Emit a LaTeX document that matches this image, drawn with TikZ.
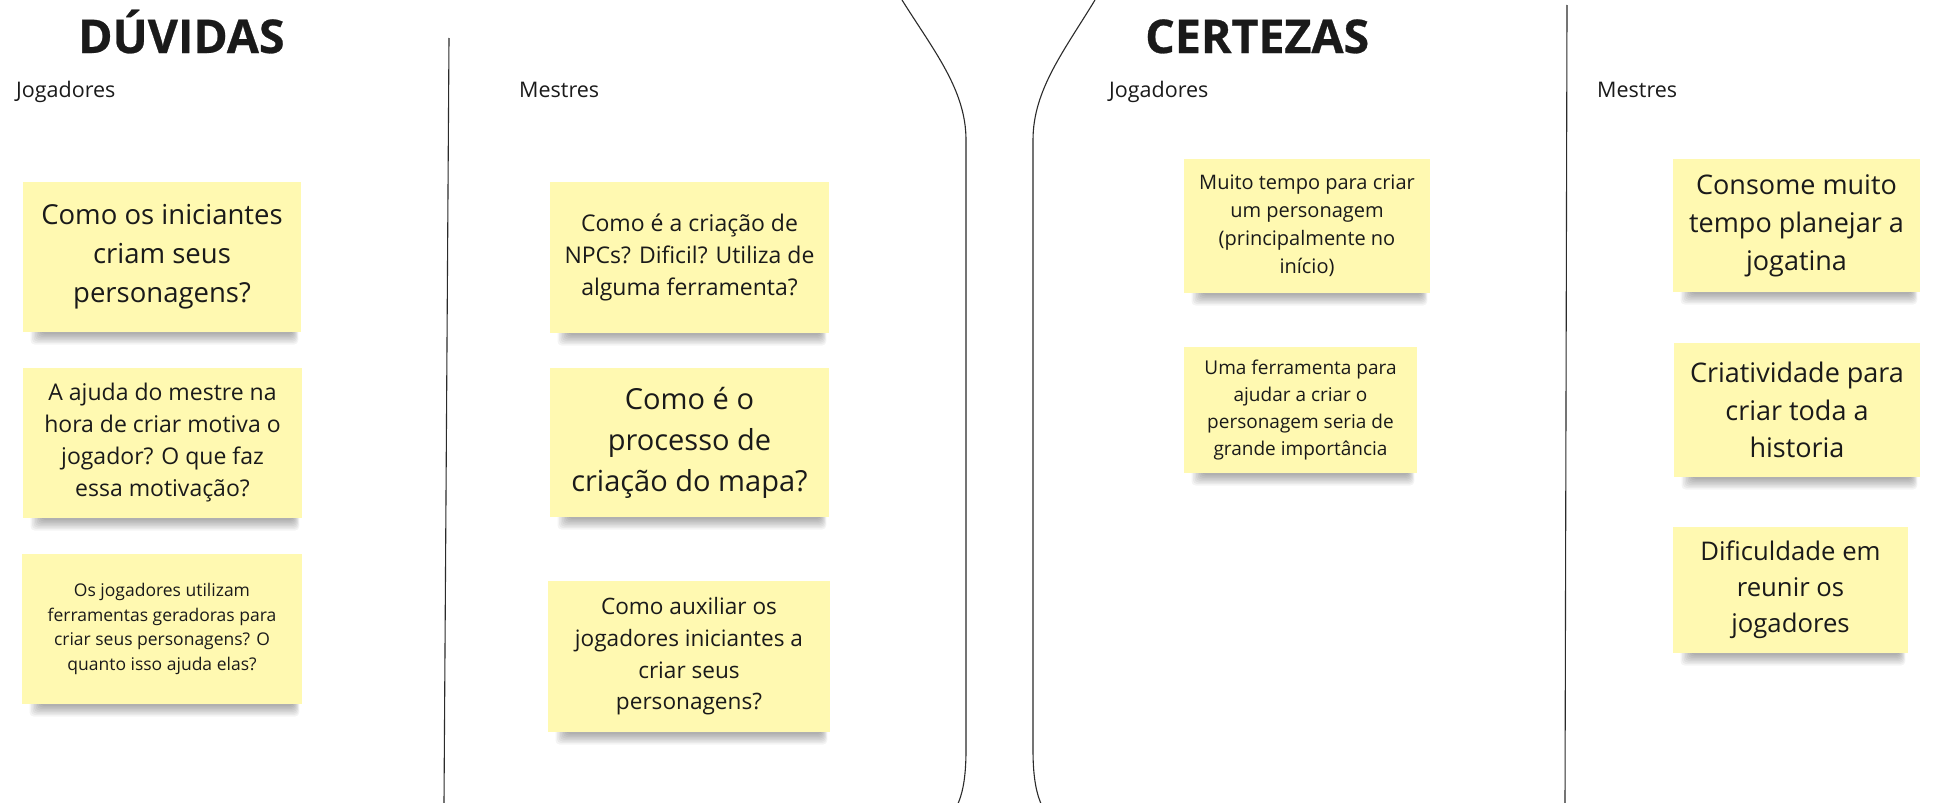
\documentclass[tikz,border=0pt]{standalone}
\usepackage{fontspec}
\setmainfont{Open Sans}
\newfontfamily\titlefont{Open Sans}[BoldFeatures={FakeBold=0.6}]
\definecolor{stickyyellow}{HTML}{FFF9B1}
\definecolor{inkdark}{HTML}{1A1A1A}
\definecolor{linegray}{HTML}{2B2B2B}
\tikzset{
  notebox/.style={fill=stickyyellow, draw=none, inner sep=0pt, align=center, text=inkdark},
  notesh/.style={fill=black, opacity=0.045, rounded corners=4pt},
  lanelabel/.style={anchor=base west, inner sep=0pt, text=inkdark, font=\fontsize{21.5}{25}\selectfont},
  bigtitle/.style={anchor=base west, inner sep=0pt, text=inkdark, font=\titlefont\bfseries\fontsize{46.5}{52}\selectfont},
  divider/.style={draw=linegray, line width=1.1pt},
}
\newcommand\stickynote[8]{%
  \foreach \s in {0,1.5,3,4.5,6,7.5,9,10.5}{\fill[notesh] (#2+18-\s,#5-4) rectangle (#4-8+0.5*\s,#5+2+\s);}
  \node[notebox, minimum width={#4-#2}, minimum height={#5-#3}, font=\fontsize{#6}{#7}\selectfont] (#1) at ({(#2+#4)/2},{(#3+#5)/2}) {#8};
}
\begin{document}
\begin{tikzpicture}[x=1pt,y=-1pt]
\useasboundingbox (0,0) rectangle (1944,803);
\fill[white] (0,0) rectangle (1944,803);
\clip (0,0) rectangle (1944,803);

% titles
\node[bigtitle] (t1) at (78,53) {DÚVIDAS};
\node[bigtitle] (t2) at (1145,53) {CERTEZAS};

% lane labels
\node[lanelabel] (l1) at (16,97) {Jogadores};
\node[lanelabel] (l2) at (519,97) {Mestres};
\node[lanelabel] (l3) at (1109,97) {Jogadores};
\node[lanelabel] (l4) at (1597,97) {Mestres};

% dividers
\draw[divider] (449,38) -- (444,803);
\draw[divider] (1567,5) -- (1565,803);

% big brackets
\draw[divider] (902,0) .. controls (934,51) and (966,90) .. (966,140) -- (966,750) .. controls (966,780) and (962,795) .. (957,806);
\draw[divider] (1095,0) .. controls (1064,51) and (1033,90) .. (1033,140) -- (1033,750) .. controls (1033,780) and (1037,795) .. (1042,806);

% notes - DUVIDAS / Jogadores
\stickynote{n1}{23}{182}{301}{332}{27.5}{39}{Como os iniciantes\\criam seus\\personagens?}
\stickynote{n2}{23}{368}{302}{518}{23}{32}{A ajuda do mestre na\\hora de criar motiva o\\jogador? O que faz\\essa motivação?}
\stickynote{n3}{22}{554}{302}{704}{17.5}{24.5}{Os jogadores utilizam\\ferramentas geradoras para\\criar seus personagens? O\\quanto isso ajuda elas?}
% DUVIDAS / Mestres
\stickynote{n4}{550}{182}{829}{333}{23}{32}{Como é a criação de\\NPCs? Dificil? Utiliza de\\alguma ferramenta?}
\stickynote{n5}{550}{368}{829}{517}{29}{41}{Como é o\\processo de\\criação do mapa?}
\stickynote{n6}{548}{581}{830}{732}{22.6}{31.7}{Como auxiliar os\\jogadores iniciantes a\\criar seus\\personagens?}
% CERTEZAS / Jogadores
\stickynote{n7}{1184}{159}{1430}{293}{20}{28}{Muito tempo para criar\\um personagem\\(principalmente no\\início)}
\stickynote{n8}{1184}{347}{1417}{473}{19}{26.7}{Uma ferramenta para\\ajudar a criar o\\personagem seria de\\grande importância}
% CERTEZAS / Mestres
\stickynote{n9}{1673}{159}{1920}{292}{27}{38}{Consome muito\\tempo planejar a\\jogatina}
\stickynote{n10}{1674}{343}{1920}{477}{27}{37.5}{Criatividade para\\criar toda a\\historia}
\stickynote{n11}{1673}{527}{1908}{653}{25.7}{36}{Dificuldade em\\reunir os\\jogadores}
\end{tikzpicture}
\end{document}
